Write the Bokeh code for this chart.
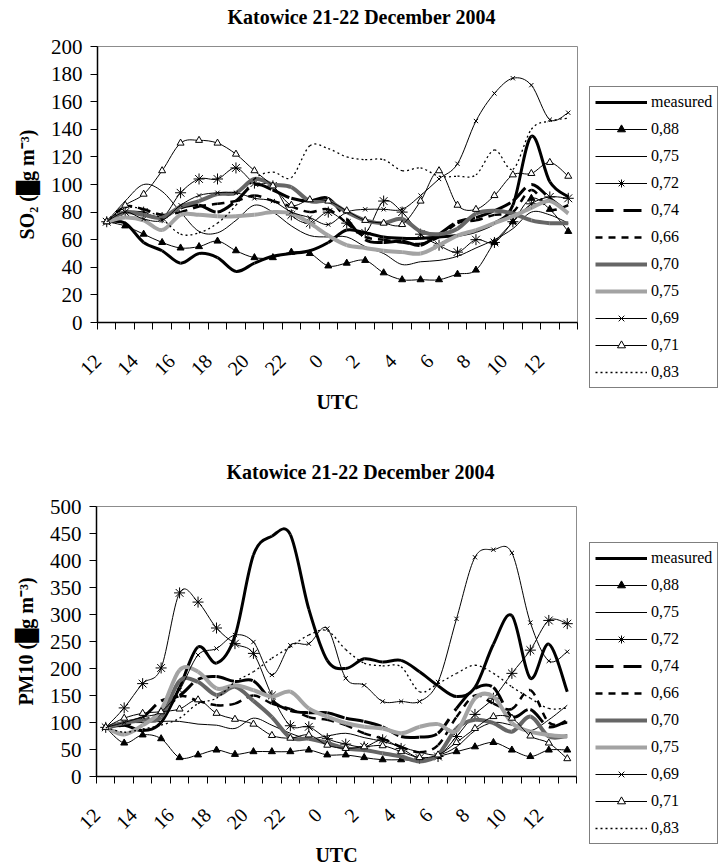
import math
from bokeh.plotting import figure
from bokeh.models import (FixedTicker, Legend, LegendItem, Range1d, Title,
                          ColumnDataSource)
from bokeh.layouts import column, row
from bokeh.embed import file_html
from bokeh.resources import INLINE

# ---------------- data ----------------
hours = [12, 13, 14, 15, 16, 17, 18, 19, 20, 21, 22, 23,
         0, 1, 2, 3, 4, 5, 6, 7, 8, 9, 10, 11, 12, 13]
labelled = list(range(0, 25, 2))

series_names = ["measured", "0,88", "0,75", "0,72", "0,74", "0,66",
                "0,70", "0,75", "0,69", "0,71", "0,83"]

so2_measured = [73, 72, 58, 52, 43, 50, 47, 37, 43, 48, 50, 52, 58, 67, 65, 62, 61, 61, 62, 63, 66, 72, 85, 135, 102, 91]
so2_088 = [73, 70, 64, 58, 54, 55, 59, 52, 47, 47, 51, 50, 41, 43, 45, 36, 31, 31, 31, 35, 38, 58, 73, 90, 82, 66]
so2_075a = [73, 88, 100, 95, 80, 66, 65, 74, 85, 80, 70, 63, 62, 62, 55, 50, 42, 44, 45, 48, 54, 60, 68, 80, 78, 72]
so2_072 = [73, 80, 80, 76, 94, 104, 104, 112, 101, 99, 78, 72, 80, 72, 65, 88, 80, 64, 56, 51, 60, 58, 73, 86, 91, 90]
so2_074 = [73, 80, 78, 76, 83, 85, 80, 88, 100, 96, 90, 88, 90, 75, 60, 58, 59, 56, 64, 73, 76, 81, 88, 100, 90, 80]
so2_066 = [73, 84, 82, 78, 80, 84, 86, 88, 92, 88, 84, 80, 82, 72, 62, 60, 58, 57, 62, 72, 74, 78, 80, 96, 82, 85]
so2_070 = [73, 80, 78, 76, 84, 88, 93, 94, 104, 100, 98, 88, 88, 80, 74, 72, 75, 66, 64, 68, 79, 81, 79, 74, 72, 72]
so2_075b = [73, 76, 74, 67, 78, 78, 77, 77, 78, 80, 79, 72, 63, 56, 54, 52, 51, 50, 56, 63, 67, 72, 77, 83, 88, 79]
so2_069 = [73, 80, 75, 74, 85, 92, 94, 94, 90, 88, 80, 76, 71, 80, 82, 82, 82, 92, 104, 115, 146, 166, 177, 172, 147, 152]
so2_071 = [73, 85, 93, 110, 130, 132, 130, 122, 110, 99, 85, 89, 88, 81, 74, 72, 71, 88, 110, 85, 82, 92, 107, 108, 116, 106]
so2_083 = [73, 83, 82, 75, 64, 65, 72, 85, 104, 109, 105, 128, 126, 120, 118, 118, 110, 112, 106, 106, 107, 125, 111, 140, 146, 148]

pm_measured = [91, 95, 85, 100, 165, 240, 210, 260, 410, 445, 448, 310, 215, 200, 218, 212, 215, 194, 168, 148, 165, 245, 298, 182, 245, 157]
pm_088 = [91, 62, 77, 70, 35, 40, 49, 41, 46, 46, 46, 49, 40, 40, 35, 31, 31, 30, 37, 46, 55, 63, 49, 37, 49, 49]
pm_075a = [91, 99, 100, 102, 102, 97, 95, 89, 108, 95, 80, 70, 75, 80, 72, 65, 55, 45, 40, 55, 85, 100, 95, 85, 105, 132]
pm_072 = [91, 127, 172, 201, 340, 323, 275, 246, 228, 150, 94, 92, 70, 60, 55, 68, 52, 34, 37, 74, 115, 145, 191, 234, 289, 283]
pm_074 = [91, 100, 110, 140, 150, 180, 185, 176, 177, 140, 122, 118, 118, 108, 102, 92, 74, 73, 80, 126, 163, 165, 111, 124, 92, 104]
pm_066 = [91, 95, 105, 115, 148, 140, 132, 135, 150, 135, 125, 110, 105, 95, 80, 70, 55, 45, 58, 110, 150, 135, 125, 160, 100, 100]
pm_070 = [91, 99, 105, 110, 177, 175, 151, 166, 140, 110, 72, 70, 62, 52, 49, 43, 37, 28, 40, 89, 105, 99, 83, 111, 74, 75]
pm_075b = [91, 78, 95, 123, 197, 194, 163, 169, 160, 148, 157, 126, 111, 99, 92, 89, 80, 92, 97, 84, 145, 148, 99, 83, 77, 74]
pm_069 = [91, 100, 110, 120, 160, 225, 237, 262, 249, 188, 243, 246, 274, 182, 169, 139, 139, 139, 175, 292, 406, 420, 414, 285, 214, 231]
pm_071 = [91, 108, 117, 120, 125, 142, 117, 106, 97, 76, 71, 77, 58, 52, 55, 57, 46, 35, 40, 63, 89, 111, 108, 75, 62, 33]
pm_083 = [91, 82, 88, 95, 108, 135, 145, 175, 194, 219, 240, 262, 270, 235, 210, 205, 203, 157, 172, 191, 206, 191, 166, 145, 126, 127]

so2_series = [so2_measured, so2_088, so2_075a, so2_072, so2_074, so2_066,
              so2_070, so2_075b, so2_069, so2_071, so2_083]
pm_series = [pm_measured, pm_088, pm_075a, pm_072, pm_074, pm_066,
             pm_070, pm_075b, pm_069, pm_071, pm_083]

so2_ticks = list(range(0, 201, 20))
pm_ticks = list(range(0, 501, 50))

# ---------------- styles ----------------
styles = [
    dict(color="black", width=3.0, dash="solid", marker=None),
    dict(color="black", width=1.0, dash="solid", marker="triangle", fill="black", size=7),
    dict(color="black", width=1.0, dash="solid", marker=None),
    dict(color="black", width=1.0, dash="solid", marker="asterisk", fill="black", size=11),
    dict(color="black", width=3.0, dash="18 10", marker=None),
    dict(color="black", width=2.5, dash="7 6", marker=None),
    dict(color="#666666", width=4.0, dash="solid", marker=None),
    dict(color="#a3a3a3", width=4.0, dash="solid", marker=None),
    dict(color="black", width=1.0, dash="solid", marker="x", fill="black", size=6),
    dict(color="black", width=1.0, dash="solid", marker="triangle", fill="white", size=7),
    dict(color="black", width=1.3, dash="2 3", marker=None),
]

SERIF = "Liberation Serif"
CHART_W = 582
LEG_W = 136
LABEL_SHIFT = 0.5  # tick labels sit a little left of the category centre, as in the source
NAN = float("nan")


def bezier_source(ys):
    xs = list(range(len(ys)))
    n = len(xs)
    d = dict(x0=[], y0=[], x1=[], y1=[], cx0=[], cy0=[], cx1=[], cy1=[])
    for i in range(n - 1):
        pm = max(i - 1, 0)
        pp = min(i + 2, n - 1)
        d["x0"].append(xs[i]); d["y0"].append(ys[i])
        d["x1"].append(xs[i + 1]); d["y1"].append(ys[i + 1])
        d["cx0"].append(xs[i] + (xs[i + 1] - xs[pm]) / 6.0)
        d["cy0"].append(ys[i] + (ys[i + 1] - ys[pm]) / 6.0)
        d["cx1"].append(xs[i + 1] - (xs[pp] - xs[i]) / 6.0)
        d["cy1"].append(ys[i + 1] - (ys[pp] - ys[i]) / 6.0)
    return ColumnDataSource(d)


def make_chart(series, ymax, yticks, ylabel, height, top, bottom, left,
               title_gap, xlabel_standoff):
    p = figure(width=CHART_W, height=height, output_backend="svg", toolbar_location=None,
               x_range=Range1d(-0.5, 25.5), y_range=Range1d(0, ymax),
               min_border_top=top, min_border_bottom=bottom,
               min_border_left=left, min_border_right=CHART_W - left - 480)
    p.background_fill_color = "white"
    p.border_fill_color = "white"
    p.outline_line_color = "#8c8c8c"
    p.outline_line_width = 1
    p.xgrid.visible = False
    p.ygrid.visible = False

    p.title = Title(text="Katowice 21-22 December 2004", align="left",
                    offset=130, text_font=SERIF, text_font_size="20px",
                    text_font_style="bold", text_color="black", standoff=4)
    # empty spacer between the title and the frame
    p.add_layout(Title(text=" ", text_font_size="2px", standoff=title_gap), "above")

    tick_pos = [i - LABEL_SHIFT for i in labelled]
    xa = p.xaxis[0]
    xa.ticker = FixedTicker(ticks=tick_pos, minor_ticks=[i - 0.5 for i in range(27)])
    xa.major_label_overrides = {t: str(hours[i]) for t, i in zip(tick_pos, labelled)}
    xa.major_label_orientation = math.pi / 4
    xa.major_tick_out = 0
    xa.major_tick_in = 0
    xa.minor_tick_out = 7
    xa.minor_tick_in = 0
    xa.minor_tick_line_color = "black"
    xa.axis_line_color = "black"
    xa.axis_line_width = 1.5
    xa.major_label_text_font = SERIF
    xa.major_label_text_font_size = "20px"
    xa.major_label_text_color = "black"
    xa.major_label_standoff = 28
    xa.axis_label = "UTC"
    xa.axis_label_text_font = SERIF
    xa.axis_label_text_font_size = "20px"
    xa.axis_label_text_font_style = "bold"
    xa.axis_label_text_color = "black"
    xa.axis_label_standoff = xlabel_standoff

    ya = p.yaxis[0]
    ya.ticker = FixedTicker(ticks=yticks)
    ya.minor_tick_line_color = None
    ya.major_tick_out = 7
    ya.major_tick_in = 0
    ya.major_tick_line_color = "black"
    ya.axis_line_color = "black"
    ya.axis_line_width = 1.5
    ya.major_label_text_font = SERIF
    ya.major_label_text_font_size = "21px"
    ya.major_label_text_color = "black"
    ya.major_label_standoff = 8
    ya.axis_label = ylabel
    ya.axis_label_text_font = SERIF
    ya.axis_label_text_font_size = "20px"
    ya.axis_label_text_font_style = "bold"
    ya.axis_label_text_color = "black"
    ya.axis_label_standoff = 10

    for ys, st in zip(series, styles):
        src = bezier_source(ys)
        p.bezier(x0="x0", y0="y0", x1="x1", y1="y1", cx0="cx0", cy0="cy0",
                 cx1="cx1", cy1="cy1", source=src, line_color=st["color"],
                 line_width=st["width"], line_dash=st["dash"])
        if st["marker"]:
            p.scatter(x=list(range(len(ys))), y=ys, marker=st["marker"],
                      size=st["size"], line_color="black", line_width=1,
                      fill_color=st["fill"])
    return p


def make_legend_panel(height, legend_y):
    q = figure(width=LEG_W, height=height, output_backend="svg", toolbar_location=None,
               x_range=Range1d(0, 1), y_range=Range1d(0, 1),
               x_axis_location=None, y_axis_location=None,
               min_border=0, min_border_left=0, min_border_right=0,
               min_border_top=0, min_border_bottom=0)
    q.frame_align = False
    q.outline_line_color = None
    q.background_fill_color = "white"
    q.border_fill_color = "white"
    q.xgrid.visible = False
    q.ygrid.visible = False
    items = []
    for name, st in zip(series_names, styles):
        # legend swatches only: a single undefined point, nothing is drawn in the plot
        r = q.line(x=[NAN], y=[NAN], line_color=st["color"], line_width=st["width"],
                   line_dash=st["dash"])
        rs = [r]
        if st["marker"]:
            m = q.scatter(x=[NAN], y=[NAN], marker=st["marker"], size=st["size"],
                          line_color="black", line_width=1, fill_color=st["fill"])
            rs.append(m)
        items.append(LegendItem(label=name, renderers=rs))
    leg = Legend(items=items, location=(7, legend_y), orientation="vertical",
                 glyph_width=52, glyph_height=20, label_height=20,
                 label_width=20, spacing=7, padding=5, margin=0,
                 label_standoff=4, label_text_font=SERIF,
                 label_text_font_size="16px", label_text_color="black",
                 border_line_color="black", border_line_width=1,
                 background_fill_color="white", background_fill_alpha=1.0)
    q.add_layout(leg)
    return q


top = make_chart(so2_series, 200, so2_ticks, "SO\u2082 (\u2588g m\u207b\u00b3)",
                 height=428, top=46, bottom=106, left=97,
                 title_gap=13, xlabel_standoff=6)
top_leg = make_legend_panel(428, 40)
bottom = make_chart(pm_series, 500, pm_ticks, "PM10 (\u2588g m\u207b\u00b3)",
                    height=440, top=78, bottom=92, left=96,
                    title_gap=18, xlabel_standoff=5)
bottom_leg = make_legend_panel(440, 24)

layout = column(row(top, top_leg, spacing=0), row(bottom, bottom_leg, spacing=0), spacing=0)
open("out.html", "w").write(file_html(layout, INLINE))
